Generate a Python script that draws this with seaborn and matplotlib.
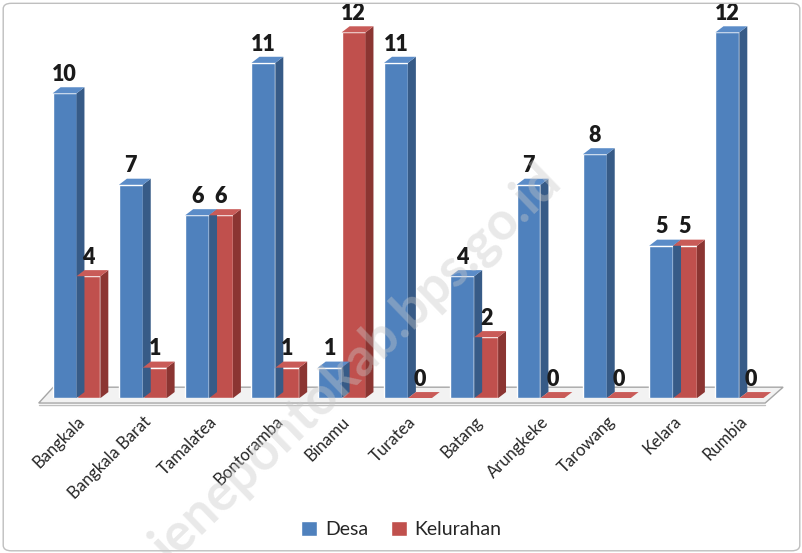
import numpy as np
import pandas as pd
import matplotlib
matplotlib.use('Agg')
import matplotlib.pyplot as plt
import seaborn as sns
from matplotlib.patches import Polygon, FancyBboxPatch, Patch

# data
kecamatan = ['Bangkala', 'Bangkala Barat', 'Tamalatea', 'Bontoramba', 'Binamu',
             'Turatea', 'Batang', 'Arungkeke', 'Tarowang', 'Kelara', 'Rumbia']
desa = [10, 7, 6, 11, 1, 11, 4, 7, 8, 5, 12]
kelurahan = [4, 1, 6, 1, 12, 0, 2, 0, 0, 5, 0]

df = pd.DataFrame({
    'Kecamatan': kecamatan * 2,
    'Jumlah': desa + kelurahan,
    'Jenis': ['Desa'] * len(desa) + ['Kelurahan'] * len(kelurahan),
})

sns.set_style('white')
plt.rcParams['font.family'] = ['Lato', 'DejaVu Sans']

front = {'Desa': '#4f81bd', 'Kelurahan': '#c0504d'}
side = {'Desa': '#375b87', 'Kelurahan': '#8b3532'}
top = {'Desa': '#5b8cc8', 'Kelurahan': '#c95b58'}

fig = plt.figure(figsize=(8.03, 5.53), dpi=100)
ax = fig.add_axes([0.054, 0.280, 0.908, 0.689])

sns.barplot(data=df, x='Kecamatan', y='Jumlah', hue='Jenis', palette=front,
            width=0.72, saturation=1, ax=ax, legend=False, zorder=3)
ax.set_xlim(-0.5, 10.5)
ax.set_ylim(0, 12.5)

# depth of the pseudo-3D bars (data units)
dx, dy = 0.12, 0.2
for cont, name in zip(ax.containers, ['Desa', 'Kelurahan']):
    for bar in cont:
        x0 = bar.get_x()
        x1 = x0 + bar.get_width()
        h = bar.get_height()
        ax.add_patch(Polygon([(x1, 0), (x1, h), (x1 + dx, h + dy), (x1 + dx, dy)],
                             closed=True, facecolor=side[name], edgecolor='none', zorder=3))
        ax.add_patch(Polygon([(x0, h), (x1, h), (x1 + dx, h + dy), (x0 + dx, h + dy)],
                             closed=True, facecolor=top[name], edgecolor='none', zorder=3))
    ax.bar_label(cont, padding=6, fontsize=15.5, fontweight='heavy', color='#1a1a1a')

# floor
ax.add_patch(Polygon([(-0.57, -0.16), (-0.35, 0.36), (10.66, 0.36), (10.39, -0.16)],
                     closed=True, facecolor='#f2f2f2', edgecolor='#a6a6a6', lw=1,
                     clip_on=False, zorder=1))
ax.plot([-0.57, 10.39], [-0.22, -0.22], color='#bfbfbf', lw=1, clip_on=False, zorder=1)

ax.set_xlabel('')
ax.set_ylabel('')
ax.set_yticks([])
ax.tick_params(axis='x', length=0, pad=11)
ax.set_xticks(range(len(kecamatan)))
ax.set_xticklabels(kecamatan, rotation=45, ha='right', rotation_mode='anchor',
                   fontsize=12, color='#262626')
for s in ax.spines.values():
    s.set_visible(False)

handles = [Patch(facecolor=front['Desa'], label='Desa'),
           Patch(facecolor=front['Kelurahan'], label='Kelurahan')]
fig.legend(handles=handles, loc='center', bbox_to_anchor=(0.5, 0.042), ncol=2,
           frameon=False, fontsize=14, handlelength=0.8, handleheight=0.8,
           columnspacing=1.2, handletextpad=0.4)

# watermark
fig.text(0.445, 0.34, 'jenepontokab.bps.go.id', rotation=44, fontsize=38,
         fontweight='bold', color='#c8c8c8', alpha=0.4, ha='center', va='center')

fig.patches.append(FancyBboxPatch((0.004, 0.004), 0.992, 0.99,
                                  boxstyle='round,pad=0,rounding_size=0.01',
                                  transform=fig.transFigure, fill=False,
                                  edgecolor='#bfbfbf', lw=1))

fig.savefig('out.png', dpi=100)
